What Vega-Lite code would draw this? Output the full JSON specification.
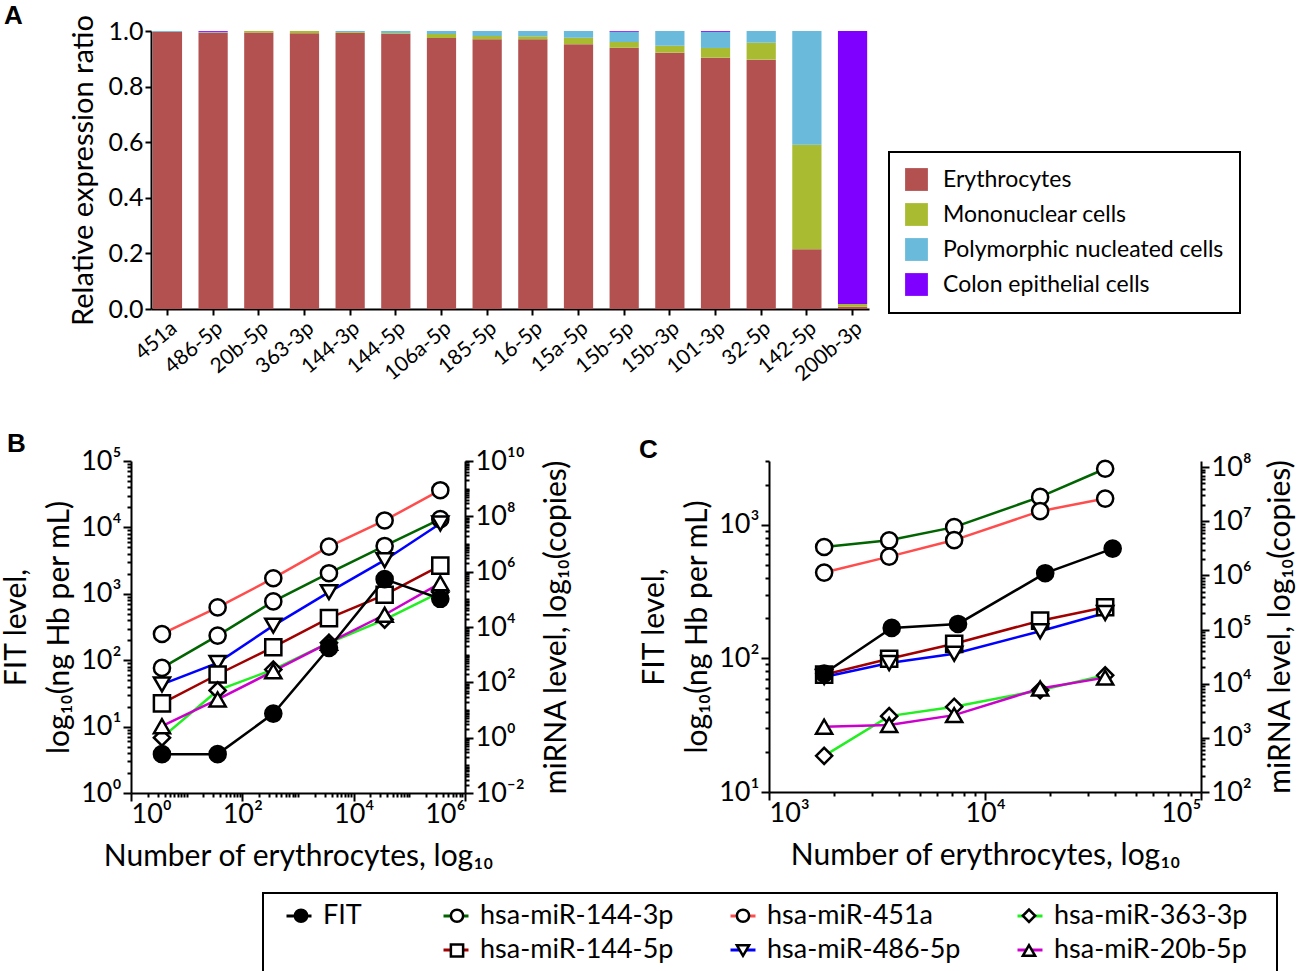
{
  "$schema": "https://vega.github.io/schema/vega-lite/v6.json",
  "background": "white",
  "padding": {"left": 1, "top": 2, "right": 0, "bottom": 0},
  "config": {
    "font": "Lato",
    "view": {"stroke": null},
    "axis": {"grid": false, "domainColor": "black", "domainWidth": 2, "tickColor": "black", "tickWidth": 2, "tickSize": 8, "labelColor": "black", "titleColor": "black", "titleFontWeight": "normal", "labelFont": "Lato", "titleFont": "Lato", "labelFontSize": 27, "titleFontSize": 30},
    "legend": {"labelColor": "black", "labelFont": "Lato", "strokeWidth": 2},
    "title": {"font": "Liberation Sans", "fontWeight": "bold", "fontSize": 26, "color": "black"}
  },
  "datasets": {
    "bars": [
      {"miRNA": "451a", "cell": "Erythrocytes", "ratio": 0.997},
      {"miRNA": "451a", "cell": "Polymorphic nucleated cells", "ratio": 0.003},
      {"miRNA": "486-5p", "cell": "Erythrocytes", "ratio": 0.995},
      {"miRNA": "486-5p", "cell": "Polymorphic nucleated cells", "ratio": 0.002},
      {"miRNA": "486-5p", "cell": "Colon epithelial cells", "ratio": 0.003},
      {"miRNA": "20b-5p", "cell": "Erythrocytes", "ratio": 0.995},
      {"miRNA": "20b-5p", "cell": "Mononuclear cells", "ratio": 0.005},
      {"miRNA": "363-3p", "cell": "Erythrocytes", "ratio": 0.992},
      {"miRNA": "363-3p", "cell": "Mononuclear cells", "ratio": 0.008},
      {"miRNA": "144-3p", "cell": "Erythrocytes", "ratio": 0.993},
      {"miRNA": "144-3p", "cell": "Mononuclear cells", "ratio": 0.003},
      {"miRNA": "144-3p", "cell": "Polymorphic nucleated cells", "ratio": 0.004},
      {"miRNA": "144-5p", "cell": "Erythrocytes", "ratio": 0.99},
      {"miRNA": "144-5p", "cell": "Mononuclear cells", "ratio": 0.003},
      {"miRNA": "144-5p", "cell": "Polymorphic nucleated cells", "ratio": 0.007},
      {"miRNA": "106a-5p", "cell": "Erythrocytes", "ratio": 0.975},
      {"miRNA": "106a-5p", "cell": "Mononuclear cells", "ratio": 0.014},
      {"miRNA": "106a-5p", "cell": "Polymorphic nucleated cells", "ratio": 0.011},
      {"miRNA": "185-5p", "cell": "Erythrocytes", "ratio": 0.97},
      {"miRNA": "185-5p", "cell": "Mononuclear cells", "ratio": 0.012},
      {"miRNA": "185-5p", "cell": "Polymorphic nucleated cells", "ratio": 0.018},
      {"miRNA": "16-5p", "cell": "Erythrocytes", "ratio": 0.97},
      {"miRNA": "16-5p", "cell": "Mononuclear cells", "ratio": 0.011},
      {"miRNA": "16-5p", "cell": "Polymorphic nucleated cells", "ratio": 0.019},
      {"miRNA": "15a-5p", "cell": "Erythrocytes", "ratio": 0.952},
      {"miRNA": "15a-5p", "cell": "Mononuclear cells", "ratio": 0.024},
      {"miRNA": "15a-5p", "cell": "Polymorphic nucleated cells", "ratio": 0.024},
      {"miRNA": "15b-5p", "cell": "Erythrocytes", "ratio": 0.94},
      {"miRNA": "15b-5p", "cell": "Mononuclear cells", "ratio": 0.02},
      {"miRNA": "15b-5p", "cell": "Polymorphic nucleated cells", "ratio": 0.037},
      {"miRNA": "15b-5p", "cell": "Colon epithelial cells", "ratio": 0.003},
      {"miRNA": "15b-3p", "cell": "Erythrocytes", "ratio": 0.922},
      {"miRNA": "15b-3p", "cell": "Mononuclear cells", "ratio": 0.025},
      {"miRNA": "15b-3p", "cell": "Polymorphic nucleated cells", "ratio": 0.053},
      {"miRNA": "101-3p", "cell": "Erythrocytes", "ratio": 0.904},
      {"miRNA": "101-3p", "cell": "Mononuclear cells", "ratio": 0.035},
      {"miRNA": "101-3p", "cell": "Polymorphic nucleated cells", "ratio": 0.058},
      {"miRNA": "101-3p", "cell": "Colon epithelial cells", "ratio": 0.003},
      {"miRNA": "32-5p", "cell": "Erythrocytes", "ratio": 0.897},
      {"miRNA": "32-5p", "cell": "Mononuclear cells", "ratio": 0.061},
      {"miRNA": "32-5p", "cell": "Polymorphic nucleated cells", "ratio": 0.042},
      {"miRNA": "142-5p", "cell": "Erythrocytes", "ratio": 0.215},
      {"miRNA": "142-5p", "cell": "Mononuclear cells", "ratio": 0.376},
      {"miRNA": "142-5p", "cell": "Polymorphic nucleated cells", "ratio": 0.409},
      {"miRNA": "200b-3p", "cell": "Erythrocytes", "ratio": 0.008},
      {"miRNA": "200b-3p", "cell": "Mononuclear cells", "ratio": 0.01},
      {"miRNA": "200b-3p", "cell": "Colon epithelial cells", "ratio": 0.982}
    ],
    "series": [
      {"panel": "B", "series": "FIT", "cells": 3.6, "value": 3.85},
      {"panel": "B", "series": "FIT", "cells": 36, "value": 3.85},
      {"panel": "B", "series": "FIT", "cells": 360, "value": 15.7},
      {"panel": "B", "series": "FIT", "cells": 3600, "value": 153},
      {"panel": "B", "series": "FIT", "cells": 36000, "value": 1660},
      {"panel": "B", "series": "FIT", "cells": 360000, "value": 841},
      {"panel": "B", "series": "hsa-miR-451a", "cells": 3.6, "value": 5600},
      {"panel": "B", "series": "hsa-miR-451a", "cells": 36, "value": 51000},
      {"panel": "B", "series": "hsa-miR-451a", "cells": 360, "value": 580000},
      {"panel": "B", "series": "hsa-miR-451a", "cells": 3600, "value": 8000000},
      {"panel": "B", "series": "hsa-miR-451a", "cells": 36000, "value": 71000000},
      {"panel": "B", "series": "hsa-miR-451a", "cells": 360000, "value": 880000000},
      {"panel": "B", "series": "hsa-miR-144-3p", "cells": 3.6, "value": 333},
      {"panel": "B", "series": "hsa-miR-144-3p", "cells": 36, "value": 4900},
      {"panel": "B", "series": "hsa-miR-144-3p", "cells": 360, "value": 84000},
      {"panel": "B", "series": "hsa-miR-144-3p", "cells": 3600, "value": 880000},
      {"panel": "B", "series": "hsa-miR-144-3p", "cells": 36000, "value": 8500000},
      {"panel": "B", "series": "hsa-miR-144-3p", "cells": 360000, "value": 79000000},
      {"panel": "B", "series": "hsa-miR-486-5p", "cells": 3.6, "value": 84},
      {"panel": "B", "series": "hsa-miR-486-5p", "cells": 36, "value": 505},
      {"panel": "B", "series": "hsa-miR-486-5p", "cells": 360, "value": 11200},
      {"panel": "B", "series": "hsa-miR-486-5p", "cells": 3600, "value": 182000},
      {"panel": "B", "series": "hsa-miR-486-5p", "cells": 36000, "value": 2600000},
      {"panel": "B", "series": "hsa-miR-486-5p", "cells": 360000, "value": 55000000},
      {"panel": "B", "series": "hsa-miR-144-5p", "cells": 3.6, "value": 17.4},
      {"panel": "B", "series": "hsa-miR-144-5p", "cells": 36, "value": 192},
      {"panel": "B", "series": "hsa-miR-144-5p", "cells": 360, "value": 1860},
      {"panel": "B", "series": "hsa-miR-144-5p", "cells": 3600, "value": 21000},
      {"panel": "B", "series": "hsa-miR-144-5p", "cells": 36000, "value": 146000},
      {"panel": "B", "series": "hsa-miR-144-5p", "cells": 360000, "value": 1660000},
      {"panel": "B", "series": "hsa-miR-363-3p", "cells": 3.6, "value": 1.0},
      {"panel": "B", "series": "hsa-miR-363-3p", "cells": 36, "value": 51},
      {"panel": "B", "series": "hsa-miR-363-3p", "cells": 360, "value": 290},
      {"panel": "B", "series": "hsa-miR-363-3p", "cells": 3600, "value": 2700},
      {"panel": "B", "series": "hsa-miR-363-3p", "cells": 36000, "value": 18500},
      {"panel": "B", "series": "hsa-miR-363-3p", "cells": 360000, "value": 182000},
      {"panel": "B", "series": "hsa-miR-20b-5p", "cells": 3.6, "value": 2.6},
      {"panel": "B", "series": "hsa-miR-20b-5p", "cells": 36, "value": 24},
      {"panel": "B", "series": "hsa-miR-20b-5p", "cells": 360, "value": 253},
      {"panel": "B", "series": "hsa-miR-20b-5p", "cells": 3600, "value": 2700},
      {"panel": "B", "series": "hsa-miR-20b-5p", "cells": 36000, "value": 27700},
      {"panel": "B", "series": "hsa-miR-20b-5p", "cells": 360000, "value": 384000},
      {"panel": "C", "series": "FIT", "cells": 1800, "value": 77},
      {"panel": "C", "series": "FIT", "cells": 3700, "value": 169},
      {"panel": "C", "series": "FIT", "cells": 7500, "value": 181},
      {"panel": "C", "series": "FIT", "cells": 19000, "value": 434},
      {"panel": "C", "series": "FIT", "cells": 39000, "value": 663},
      {"panel": "C", "series": "hsa-miR-144-3p", "cells": 1800, "value": 3350000},
      {"panel": "C", "series": "hsa-miR-144-3p", "cells": 3600, "value": 4450000},
      {"panel": "C", "series": "hsa-miR-144-3p", "cells": 7200, "value": 7800000},
      {"panel": "C", "series": "hsa-miR-144-3p", "cells": 18000, "value": 28200000},
      {"panel": "C", "series": "hsa-miR-144-3p", "cells": 36000, "value": 93500000},
      {"panel": "C", "series": "hsa-miR-451a", "cells": 1800, "value": 1130000},
      {"panel": "C", "series": "hsa-miR-451a", "cells": 3600, "value": 2230000},
      {"panel": "C", "series": "hsa-miR-451a", "cells": 7200, "value": 4500000},
      {"panel": "C", "series": "hsa-miR-451a", "cells": 18000, "value": 15400000},
      {"panel": "C", "series": "hsa-miR-451a", "cells": 36000, "value": 26300000},
      {"panel": "C", "series": "hsa-miR-144-5p", "cells": 1800, "value": 14700},
      {"panel": "C", "series": "hsa-miR-144-5p", "cells": 3600, "value": 29000},
      {"panel": "C", "series": "hsa-miR-144-5p", "cells": 7200, "value": 54600},
      {"panel": "C", "series": "hsa-miR-144-5p", "cells": 18000, "value": 146000},
      {"panel": "C", "series": "hsa-miR-144-5p", "cells": 36000, "value": 258000},
      {"panel": "C", "series": "hsa-miR-486-5p", "cells": 1800, "value": 13300},
      {"panel": "C", "series": "hsa-miR-486-5p", "cells": 3600, "value": 24100},
      {"panel": "C", "series": "hsa-miR-486-5p", "cells": 7200, "value": 35800},
      {"panel": "C", "series": "hsa-miR-486-5p", "cells": 18000, "value": 93300},
      {"panel": "C", "series": "hsa-miR-486-5p", "cells": 36000, "value": 203000},
      {"panel": "C", "series": "hsa-miR-363-3p", "cells": 1800, "value": 465},
      {"panel": "C", "series": "hsa-miR-363-3p", "cells": 3600, "value": 2520},
      {"panel": "C", "series": "hsa-miR-363-3p", "cells": 7200, "value": 3750},
      {"panel": "C", "series": "hsa-miR-363-3p", "cells": 18000, "value": 7590},
      {"panel": "C", "series": "hsa-miR-363-3p", "cells": 36000, "value": 14300},
      {"panel": "C", "series": "hsa-miR-20b-5p", "cells": 1800, "value": 1610},
      {"panel": "C", "series": "hsa-miR-20b-5p", "cells": 3600, "value": 1730},
      {"panel": "C", "series": "hsa-miR-20b-5p", "cells": 7200, "value": 2630},
      {"panel": "C", "series": "hsa-miR-20b-5p", "cells": 18000, "value": 8140},
      {"panel": "C", "series": "hsa-miR-20b-5p", "cells": 36000, "value": 12970}
    ]
  },
  "columns": 1,
  "align": "none",
  "spacing": 46,
  "concat": [
    {
      "width": 738,
      "height": 278,
      "title": {"text": "A", "anchor": "start", "frame": "bounds", "dx": -65, "dy": 14, "offset": 0},
      "data": {"name": "bars"},
      "transform": [{"calculate": "indexof(['Erythrocytes', 'Mononuclear cells', 'Polymorphic nucleated cells', 'Colon epithelial cells'], datum.cell)", "as": "stackOrder"}],
      "mark": {"type": "bar"},
      "encoding": {
        "x": {"field": "miRNA", "type": "nominal", "sort": null, "scale": {"paddingInner": 0.36, "paddingOuter": 0.04, "range": [20, 738]},
          "axis": {"title": null, "labelAngle": -40, "labelFontSize": 21, "tickSize": 6, "labelPadding": 2}},
        "y": {"field": "ratio", "type": "quantitative", "stack": "zero", "scale": {"domain": [0, 1], "nice": false},
          "axis": {"title": "Relative expression ratio", "offset": -20, "values": [0, 0.2, 0.4, 0.6, 0.8, 1], "format": ".1f", "labelFontSize": 25, "titleFontSize": 29, "titlePadding": 10, "tickSize": 6}},
        "order": {"field": "stackOrder", "type": "quantitative", "sort": "ascending"},
        "color": {"field": "cell", "type": "nominal",
          "sort": ["Erythrocytes", "Mononuclear cells", "Polymorphic nucleated cells", "Colon epithelial cells"],
          "scale": {"domain": ["Erythrocytes", "Mononuclear cells", "Polymorphic nucleated cells", "Colon epithelial cells"], "range": ["#B35050", "#A9BC31", "#69BADB", "#8000FF"]},
          "legend": {"orient": "none", "legendX": 758, "legendY": 121, "title": null, "symbolType": "square", "symbolSize": 520, "symbolStrokeWidth": 0, "symbolOpacity": 1, "labelFontSize": 23, "labelOffset": 15, "rowPadding": 11, "padding": 16, "strokeColor": "black", "labelLimit": 400}}
      }
    },
    {
      "spacing": 67,
      "hconcat": [
        {
          "width": 334,
          "height": 332,
          "title": {"text": "B", "anchor": "start", "frame": "bounds", "dx": 6, "dy": 10, "offset": 0},
          "data": {"name": "series"},
          "layer": [
            {
              "transform": [{"filter": "datum.panel === 'B' && datum.series !== 'FIT'"}],
              "layer": [
                {"mark": {"type": "line", "strokeWidth": 2.5},
                  "encoding": {
                    "x": {"field": "cells", "type": "quantitative", "scale": {"type": "log", "domain": [1, 1000000], "nice": false}, "axis": null},
                    "y": {"field": "value", "type": "quantitative", "scale": {"type": "log", "domain": [0.01, 10000000000], "nice": false},
                      "axis": {"orient": "right", "values": [0.01, 1, 100, 10000, 1000000, 100000000, 10000000000], "labelExpr": "'10' + ['⁻²','⁻¹','⁰','¹','²','³','⁴','⁵','⁶','⁷','⁸','⁹','¹⁰'][round(log(datum.value)/LN10)+2]", "title": "miRNA level, log₁₀(copies)", "titleAngle": 270, "titleBaseline": "top", "titlePadding": 17}},
                    "stroke": {"field": "series", "type": "nominal",
                      "scale": {"domain": ["FIT", "\u2800\u2800\u2009\u2800", "hsa-miR-144-3p", "hsa-miR-144-5p", "hsa-miR-451a", "hsa-miR-486-5p", "hsa-miR-363-3p", "hsa-miR-20b-5p"], "range": ["black", "transparent", "#006400", "#A00000", "#FF4D4D", "#0000FF", "#22EE22", "#CC00CC"]},
                      "legend": {"orient": "none", "legendX": 132, "legendY": 862, "title": "W", "titleColor": "transparent", "titleOrient": "left", "titleFontSize": 12, "titlePadding": 0, "columns": 4, "symbolType": "stroke", "symbolSize": 625, "symbolStrokeWidth": 3, "labelFontSize": 27, "labelOffset": 10, "columnPadding": 50, "rowPadding": 7, "padding": 9, "strokeColor": "black", "labelLimit": 400,
                        "labelExpr": "datum.label === 'hsa-miR-363-3p' ? datum.label + '\u2800' : datum.label"}}}},
                {"mark": {"type": "point", "filled": true, "stroke": "black", "strokeWidth": 2.5, "size": 260, "opacity": 1},
                  "encoding": {
                    "x": {"field": "cells", "type": "quantitative", "scale": {"type": "log", "domain": [1, 1000000], "nice": false}, "axis": null},
                    "y": {"field": "value", "type": "quantitative", "scale": {"type": "log", "domain": [0.01, 10000000000], "nice": false},
                      "axis": {"orient": "right", "values": [0.02,0.03,0.04,0.05,0.06,0.07,0.08,0.09,0.1,0.2,0.3,0.4,0.5,0.6,0.7,0.8,0.9,2,3,4,5,6,7,8,9,10,20,30,40,50,60,70,80,90,200,300,400,500,600,700,800,900,1000,2000,3000,4000,5000,6000,7000,8000,9000,20000,30000,40000,50000,60000,70000,80000,90000,100000,200000,300000,400000,500000,600000,700000,800000,900000,2000000,3000000,4000000,5000000,6000000,7000000,8000000,9000000,10000000,20000000,30000000,40000000,50000000,60000000,70000000,80000000,90000000,200000000,300000000,400000000,500000000,600000000,700000000,800000000,900000000,1000000000,2000000000,3000000000,4000000000,5000000000,6000000000,7000000000,8000000000,9000000000], "labels": false, "domain": false, "tickSize": 4, "title": null}},
                    "fill": {"field": "series", "type": "nominal",
                      "scale": {"domain": ["FIT", "\u2800\u2800\u2009\u2800\u200b", "hsa-miR-144-3p", "hsa-miR-144-5p", "hsa-miR-451a", "hsa-miR-486-5p", "hsa-miR-363-3p", "hsa-miR-20b-5p"], "range": ["black", "white", "white", "white", "white", "white", "white", "white"]},
                      "legend": {"orient": "none", "legendX": 134.5, "legendY": 862, "title": "W", "titleColor": "transparent", "titleOrient": "left", "titleFontSize": 12, "titlePadding": 0, "columns": 4, "symbolSize": 150, "symbolStrokeWidth": 2.5, "labelFontSize": 27, "labelOffset": 14.9, "columnPadding": 50, "rowPadding": 7, "padding": 9, "labelColor": "transparent", "labelLimit": 400,
                        "labelExpr": "datum.label === 'hsa-miR-363-3p' ? datum.label + '\u2800' : datum.label",
                        "encode": {"symbols": {"stroke": {"value": "black"}}}}},
                    "shape": {"field": "series", "type": "nominal",
                      "scale": {"domain": ["FIT", "\u2800\u2800\u2009\u2800\u200b", "hsa-miR-144-3p", "hsa-miR-144-5p", "hsa-miR-451a", "hsa-miR-486-5p", "hsa-miR-363-3p", "hsa-miR-20b-5p"], "range": ["circle", "M0,0", "circle", "square", "circle", "triangle-down", "diamond", "triangle-up"]}}}}
              ],
              "resolve": {"axis": {"y": "independent"}}
            },
            {
              "transform": [{"filter": "datum.panel === 'B' && datum.series === 'FIT'"}],
              "layer": [
                {"mark": {"type": "line", "strokeWidth": 2.5},
                  "encoding": {
                    "x": {"field": "cells", "type": "quantitative", "scale": {"type": "log", "domain": [1, 1000000], "nice": false},
                      "axis": {"orient": "bottom", "values": [1, 100, 10000, 1000000], "labelExpr": "'10' + ['⁻²','⁻¹','⁰','¹','²','³','⁴','⁵','⁶','⁷','⁸','⁹','¹⁰'][round(log(datum.value)/LN10)+2]", "title": "Number of erythrocytes, log₁₀", "labelPadding": 0, "titlePadding": 14}},
                    "y": {"field": "value", "type": "quantitative", "scale": {"type": "log", "domain": [1, 100000], "nice": false},
                      "axis": {"orient": "left", "values": [1, 10, 100, 1000, 10000, 100000], "labelExpr": "'10' + ['⁻²','⁻¹','⁰','¹','²','³','⁴','⁵','⁶','⁷','⁸','⁹','¹⁰'][round(log(datum.value)/LN10)+2]", "title": "log₁₀(ng Hb per mL)", "titlePadding": 6}},
                    "stroke": {"field": "series", "type": "nominal",
                      "scale": {"domain": ["FIT", "\u2800\u2800\u2009\u2800", "hsa-miR-144-3p", "hsa-miR-144-5p", "hsa-miR-451a", "hsa-miR-486-5p", "hsa-miR-363-3p", "hsa-miR-20b-5p"], "range": ["black", "transparent", "#006400", "#A00000", "#FF4D4D", "#0000FF", "#22EE22", "#CC00CC"]}}}},
                {"mark": {"type": "point", "filled": true, "stroke": "black", "strokeWidth": 2.5, "size": 260, "opacity": 1},
                  "encoding": {
                    "x": {"field": "cells", "type": "quantitative", "scale": {"type": "log", "domain": [1, 1000000], "nice": false},
                      "axis": {"orient": "bottom", "values": [2,3,4,5,6,7,8,9,10,20,30,40,50,60,70,80,90,200,300,400,500,600,700,800,900,1000,2000,3000,4000,5000,6000,7000,8000,9000,20000,30000,40000,50000,60000,70000,80000,90000,100000,200000,300000,400000,500000,600000,700000,800000,900000], "labels": false, "domain": false, "tickSize": 4, "title": null}},
                    "y": {"field": "value", "type": "quantitative", "scale": {"type": "log", "domain": [1, 100000], "nice": false},
                      "axis": {"orient": "left", "values": [2,3,4,5,6,7,8,9,20,30,40,50,60,70,80,90,200,300,400,500,600,700,800,900,2000,3000,4000,5000,6000,7000,8000,9000,20000,30000,40000,50000,60000,70000,80000,90000], "labels": false, "domain": false, "tickSize": 4, "title": "FIT level,", "titlePadding": 95}},
                    "fill": {"field": "series", "type": "nominal",
                      "scale": {"domain": ["FIT", "\u2800\u2800\u2009\u2800\u200b", "hsa-miR-144-3p", "hsa-miR-144-5p", "hsa-miR-451a", "hsa-miR-486-5p", "hsa-miR-363-3p", "hsa-miR-20b-5p"], "range": ["black", "white", "white", "white", "white", "white", "white", "white"]}},
                    "shape": {"field": "series", "type": "nominal",
                      "scale": {"domain": ["FIT", "\u2800\u2800\u2009\u2800\u200b", "hsa-miR-144-3p", "hsa-miR-144-5p", "hsa-miR-451a", "hsa-miR-486-5p", "hsa-miR-363-3p", "hsa-miR-20b-5p"], "range": ["circle", "M0,0", "circle", "square", "circle", "triangle-down", "diamond", "triangle-up"]}}}}
              ],
              "resolve": {"axis": {"x": "independent", "y": "independent"}}
            }
          ],
          "resolve": {"scale": {"y": "independent"}}
        },
        {
          "width": 432,
          "height": 331,
          "title": {"text": "C", "anchor": "start", "frame": "bounds", "dx": 0, "dy": 10, "offset": 0},
          "data": {"name": "series"},
          "layer": [
            {
              "transform": [{"filter": "datum.panel === 'C' && datum.series !== 'FIT'"}],
              "layer": [
                {"mark": {"type": "line", "strokeWidth": 2.5},
                  "encoding": {
                    "x": {"field": "cells", "type": "quantitative", "scale": {"type": "log", "domain": [1000, 100000], "nice": false}, "axis": null},
                    "y": {"field": "value", "type": "quantitative", "scale": {"type": "log", "domain": [100, 130000000], "nice": false},
                      "axis": {"orient": "right", "values": [100, 1000, 10000, 100000, 1000000, 10000000, 100000000], "labelExpr": "'10' + ['⁻²','⁻¹','⁰','¹','²','³','⁴','⁵','⁶','⁷','⁸','⁹','¹⁰'][round(log(datum.value)/LN10)+2]", "title": "miRNA level, log₁₀(copies)", "titleAngle": 270, "titleBaseline": "top", "titlePadding": 14}},
                    "stroke": {"field": "series", "type": "nominal",
                      "scale": {"domain": ["FIT", "\u2800\u2800\u2009\u2800", "hsa-miR-144-3p", "hsa-miR-144-5p", "hsa-miR-451a", "hsa-miR-486-5p", "hsa-miR-363-3p", "hsa-miR-20b-5p"], "range": ["black", "transparent", "#006400", "#A00000", "#FF4D4D", "#0000FF", "#22EE22", "#CC00CC"]}}}},
                {"mark": {"type": "point", "filled": true, "stroke": "black", "strokeWidth": 2.5, "size": 260, "opacity": 1},
                  "encoding": {
                    "x": {"field": "cells", "type": "quantitative", "scale": {"type": "log", "domain": [1000, 100000], "nice": false}, "axis": null},
                    "y": {"field": "value", "type": "quantitative", "scale": {"type": "log", "domain": [100, 130000000], "nice": false},
                      "axis": {"orient": "right", "values": [200,300,400,500,600,700,800,900,2000,3000,4000,5000,6000,7000,8000,9000,20000,30000,40000,50000,60000,70000,80000,90000,200000,300000,400000,500000,600000,700000,800000,900000,2000000,3000000,4000000,5000000,6000000,7000000,8000000,9000000,20000000,30000000,40000000,50000000,60000000,70000000,80000000,90000000], "labels": false, "domain": false, "tickSize": 4, "title": null}},
                    "fill": {"field": "series", "type": "nominal",
                      "scale": {"domain": ["FIT", "\u2800\u2800\u2009\u2800\u200b", "hsa-miR-144-3p", "hsa-miR-144-5p", "hsa-miR-451a", "hsa-miR-486-5p", "hsa-miR-363-3p", "hsa-miR-20b-5p"], "range": ["black", "white", "white", "white", "white", "white", "white", "white"]}},
                    "shape": {"field": "series", "type": "nominal",
                      "scale": {"domain": ["FIT", "\u2800\u2800\u2009\u2800\u200b", "hsa-miR-144-3p", "hsa-miR-144-5p", "hsa-miR-451a", "hsa-miR-486-5p", "hsa-miR-363-3p", "hsa-miR-20b-5p"], "range": ["circle", "M0,0", "circle", "square", "circle", "triangle-down", "diamond", "triangle-up"]}}}}
              ],
              "resolve": {"axis": {"y": "independent"}}
            },
            {
              "transform": [{"filter": "datum.panel === 'C' && datum.series === 'FIT'"}],
              "layer": [
                {"mark": {"type": "line", "strokeWidth": 2.5},
                  "encoding": {
                    "x": {"field": "cells", "type": "quantitative", "scale": {"type": "log", "domain": [1000, 100000], "nice": false},
                      "axis": {"orient": "bottom", "values": [1000, 10000, 100000], "labelExpr": "'10' + ['⁻²','⁻¹','⁰','¹','²','³','⁴','⁵','⁶','⁷','⁸','⁹','¹⁰'][round(log(datum.value)/LN10)+2]", "title": "Number of erythrocytes, log₁₀", "labelPadding": 0, "titlePadding": 14}},
                    "y": {"field": "value", "type": "quantitative", "scale": {"type": "log", "domain": [10, 3000], "nice": false},
                      "axis": {"orient": "left", "values": [10, 100, 1000], "labelExpr": "'10' + ['⁻²','⁻¹','⁰','¹','²','³','⁴','⁵','⁶','⁷','⁸','⁹','¹⁰'][round(log(datum.value)/LN10)+2]", "title": "log₁₀(ng Hb per mL)", "titlePadding": 6}},
                    "stroke": {"field": "series", "type": "nominal",
                      "scale": {"domain": ["FIT", "\u2800\u2800\u2009\u2800", "hsa-miR-144-3p", "hsa-miR-144-5p", "hsa-miR-451a", "hsa-miR-486-5p", "hsa-miR-363-3p", "hsa-miR-20b-5p"], "range": ["black", "transparent", "#006400", "#A00000", "#FF4D4D", "#0000FF", "#22EE22", "#CC00CC"]}}}},
                {"mark": {"type": "point", "filled": true, "stroke": "black", "strokeWidth": 2.5, "size": 260, "opacity": 1},
                  "encoding": {
                    "x": {"field": "cells", "type": "quantitative", "scale": {"type": "log", "domain": [1000, 100000], "nice": false},
                      "axis": {"orient": "bottom", "values": [2000,3000,4000,5000,6000,7000,8000,9000,20000,30000,40000,50000,60000,70000,80000,90000], "labels": false, "domain": false, "tickSize": 4, "title": null}},
                    "y": {"field": "value", "type": "quantitative", "scale": {"type": "log", "domain": [10, 3000], "nice": false},
                      "axis": {"orient": "left", "values": [20,30,40,50,60,70,80,90,200,300,400,500,600,700,800,900,2000,3000], "labels": false, "domain": false, "tickSize": 4, "title": "FIT level,", "titlePadding": 95}},
                    "fill": {"field": "series", "type": "nominal",
                      "scale": {"domain": ["FIT", "\u2800\u2800\u2009\u2800\u200b", "hsa-miR-144-3p", "hsa-miR-144-5p", "hsa-miR-451a", "hsa-miR-486-5p", "hsa-miR-363-3p", "hsa-miR-20b-5p"], "range": ["black", "white", "white", "white", "white", "white", "white", "white"]}},
                    "shape": {"field": "series", "type": "nominal",
                      "scale": {"domain": ["FIT", "\u2800\u2800\u2009\u2800\u200b", "hsa-miR-144-3p", "hsa-miR-144-5p", "hsa-miR-451a", "hsa-miR-486-5p", "hsa-miR-363-3p", "hsa-miR-20b-5p"], "range": ["circle", "M0,0", "circle", "square", "circle", "triangle-down", "diamond", "triangle-up"]}}}}
              ],
              "resolve": {"axis": {"x": "independent", "y": "independent"}}
            }
          ],
          "resolve": {"scale": {"y": "independent"}}
        }
      ]
    }
  ]
}
